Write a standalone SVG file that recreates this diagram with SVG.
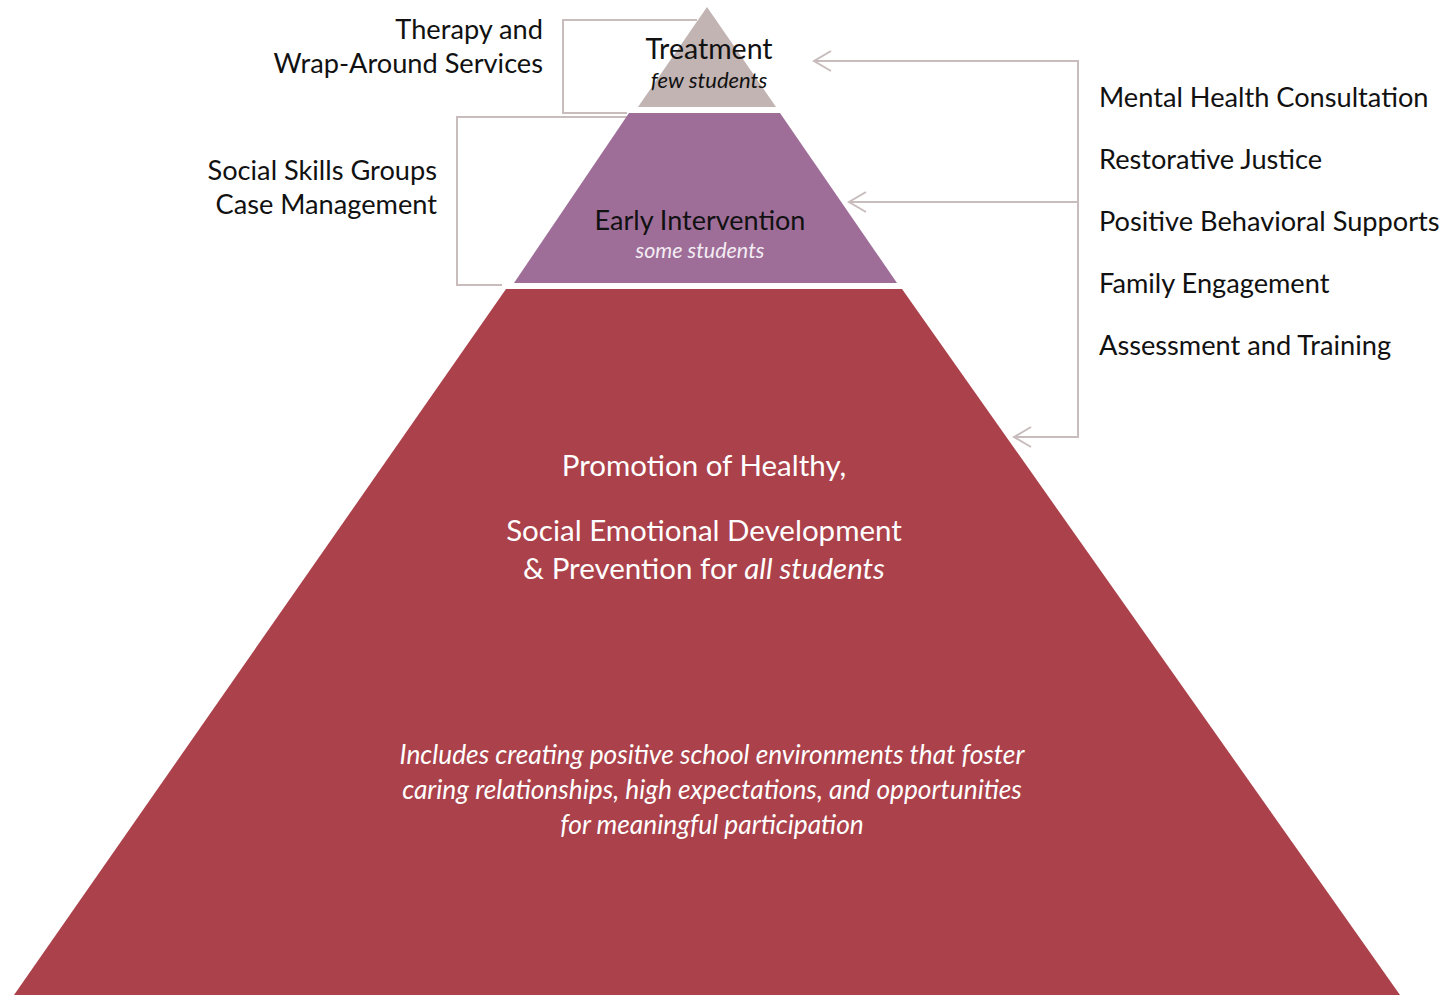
<svg xmlns="http://www.w3.org/2000/svg" width="1441" height="995" viewBox="0 0 1441 995">
  <defs>
    <style>
      .t { font-family: Lato, "Open Sans", "Liberation Sans", sans-serif; fill: #111; }
      .lbl { font-size: 27.2px; }
      .w { fill: #ffffff; }
      .it { font-style: italic; }
      .big { font-size: 29.5px; }
      .con { fill: none; stroke: #c8bcbc; stroke-width: 2; }
    </style>
    <marker id="chev" markerUnits="userSpaceOnUse" markerWidth="22" markerHeight="26" viewBox="0 0 22 26" refX="19" refY="12" orient="auto">
      <path d="M2,2 L19,12 L2,22" fill="none" stroke="#c8bcbc" stroke-width="2"/>
    </marker>
  </defs>
  <rect width="1441" height="995" fill="#ffffff"/>

  <g id="connectors">
    <path class="con" d="M697,20 H563 V113 H627"/>
    <path class="con" d="M627,117 H457 V285 H502"/>
    <path class="con" d="M1078,202 V61 H814" marker-end="url(#chev)"/>
    <path class="con" d="M1078,202 H849" marker-end="url(#chev)"/>
    <path class="con" d="M1078,202 V437 H1014" marker-end="url(#chev)"/>
  </g>

  <g id="tier-universal">
    <polygon points="506,289 902,289 1400,995 14,995" fill="#ab414a"/>
    <text class="t w big" x="704" y="476" text-anchor="middle">Promotion of Healthy,</text>
    <text class="t w big" x="704" y="541" text-anchor="middle">Social Emotional Development</text>
    <text class="t w big" x="704" y="579" text-anchor="middle">&amp; Prevention for <tspan class="it">all students</tspan></text>
    <text class="t w it" x="712" y="764" text-anchor="middle" font-size="26.3">Includes creating positive school environments that foster</text>
    <text class="t w it" x="712" y="799" text-anchor="middle" font-size="26.3">caring relationships, high expectations, and opportunities</text>
    <text class="t w it" x="712" y="834" text-anchor="middle" font-size="26.3">for meaningful participation</text>
  </g>

  <g id="tier-early">
    <polygon points="629,113 780,113 897,283 514,283" fill="#9e6e99"/>
    <text class="t" x="700" y="230" text-anchor="middle" font-size="27">Early Intervention</text>
    <text class="t it" x="700" y="258" text-anchor="middle" font-size="21.5" style="fill:#f3ecf2">some students</text>
  </g>

  <g id="tier-treatment">
    <polygon points="707,7 776,107 638,107" fill="#c1b4b3"/>
    <text class="t" x="709" y="59" text-anchor="middle" font-size="28.5">Treatment</text>
    <text class="t it" x="709" y="88" text-anchor="middle" font-size="22">few students</text>
  </g>

  <g id="left-therapy">
    <text class="t lbl" x="543" y="39" text-anchor="end">Therapy and</text>
    <text class="t lbl" x="543" y="73" text-anchor="end">Wrap-Around Services</text>
  </g>
  <g id="left-social">
    <text class="t lbl" x="437" y="180" text-anchor="end">Social Skills Groups</text>
    <text class="t lbl" x="437" y="214" text-anchor="end">Case Management</text>
  </g>

  <g id="right-supports">
    <text class="t lbl" x="1099" y="107">Mental Health Consultation</text>
    <text class="t lbl" x="1099" y="169">Restorative Justice</text>
    <text class="t lbl" x="1099" y="231">Positive Behavioral Supports</text>
    <text class="t lbl" x="1099" y="293">Family Engagement</text>
    <text class="t lbl" x="1099" y="355">Assessment and Training</text>
  </g>
</svg>
